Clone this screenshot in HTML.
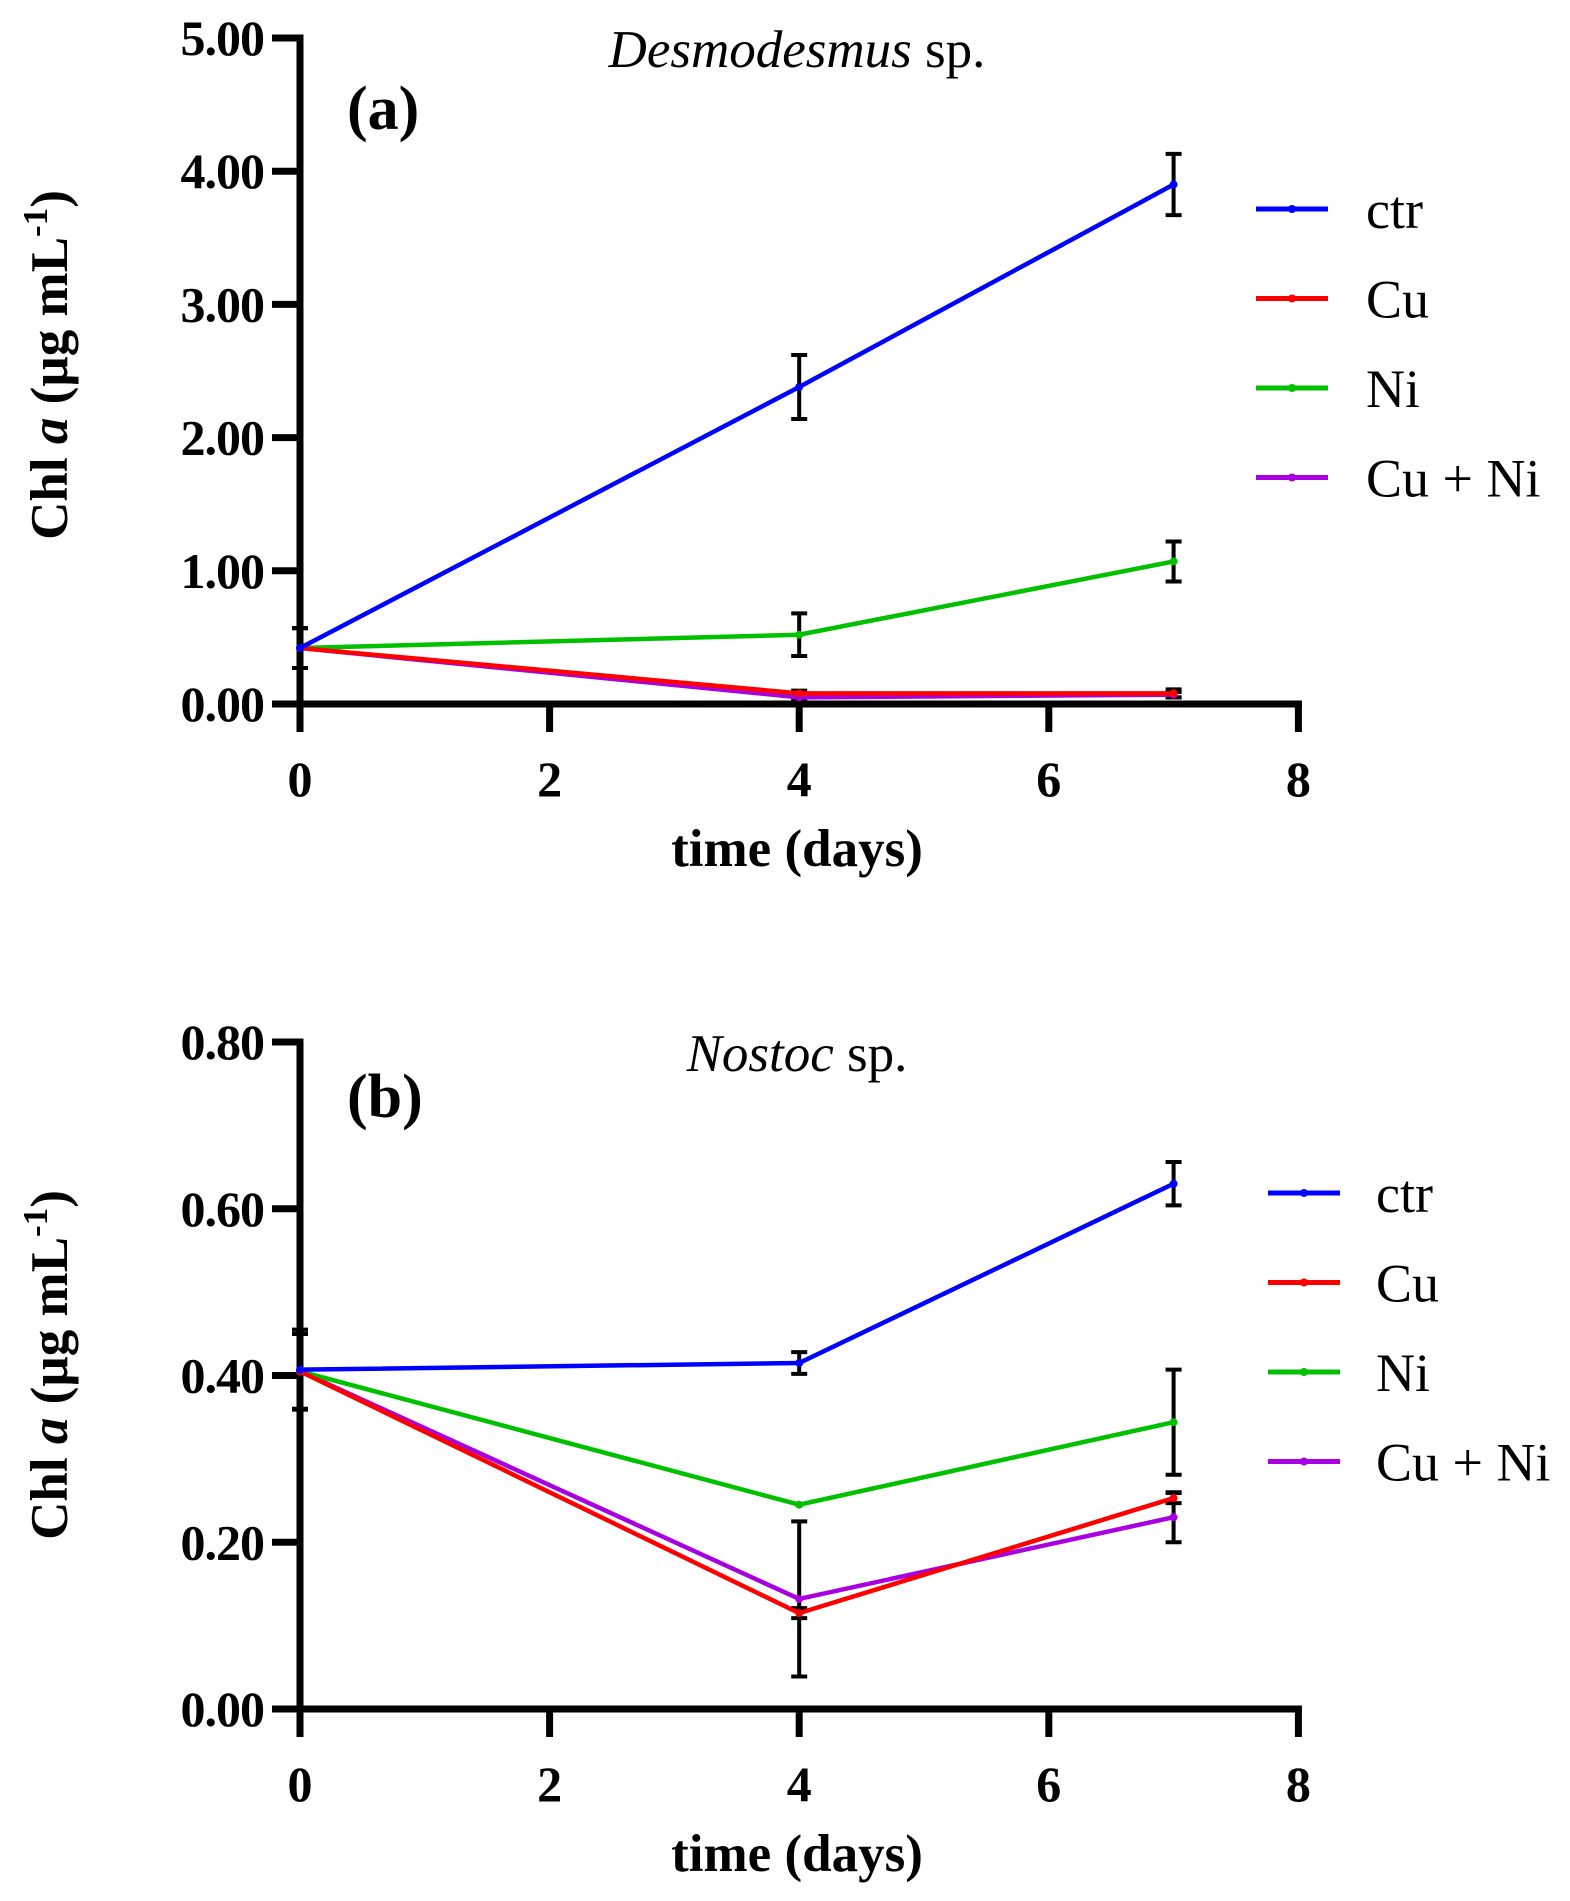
<!DOCTYPE html>
<html><head><meta charset="utf-8"><style>
html,body{margin:0;padding:0;background:#fff;}
svg{display:block;font-family:"Liberation Serif",serif;}
</style></head><body>
<svg id="fig" width="1570" height="1901" viewBox="0 0 1570 1901" xmlns="http://www.w3.org/2000/svg"></svg>
<script>
const days = [0, 4, 7];
const seriesNames = ["ctr", "Cu", "Ni", "Cu + Ni"];
// panel a - Desmodesmus
const aCtr = [0.42, 2.38, 3.90];
const aCtrErr = [0.15, 0.24, 0.23];
const aCu = [0.42, 0.08, 0.08];
const aCuErr = [0.15, 0.02, 0.03];
const aNi = [0.42, 0.52, 1.07];
const aNiErr = [0.15, 0.16, 0.15];
const aCuNi = [0.42, 0.05, 0.07];
const aCuNiErr = [0.15, 0.01, 0.02];
const aTicks = ["0.00", "1.00", "2.00", "3.00", "4.00", "5.00"];
// panel b - Nostoc
const bCtr = [0.407, 0.415, 0.630];
const bCtrErr = [0.048, 0.013, 0.026];
const bCu = [0.405, 0.115, 0.253];
const bCuErr = [0.045, 0.006, 0.006];
const bNi = [0.405, 0.245, 0.344];
const bNiErr = [0.045, 0.0, 0.063];
const bCuNi = [0.405, 0.132, 0.230];
const bCuNiErr = [0.045, 0.093, 0.030];
const bTicks = ["0.00", "0.20", "0.40", "0.60", "0.80"];
const xTicks = ["0", "2", "4", "6", "8"];

const NS = "http://www.w3.org/2000/svg";
const svg = document.getElementById("fig");
const colors = ["#0000ff", "#ff0000", "#00c000", "#a800e0"];
function mk(tag, attrs, parent, text) {
  const e = document.createElementNS(NS, tag);
  for (const k in attrs) e.setAttribute(k, attrs[k]);
  if (text !== undefined) e.textContent = text;
  (parent || svg).appendChild(e);
  return e;
}
function panel(opt) {
  const g = mk("g", {});
  
  
  const x0 = 300, pxPerDay = 124.8;
  const xs = d => x0 + d * pxPerDay;
  const ys = v => opt.yBottom - (v / opt.yMax) * (opt.yBottom - opt.yTop);
  const yAxis = mk("line", {x1: x0, y1: opt.yTop - 3.5, x2: x0, y2: opt.yBottom + 28, stroke: "#000", "stroke-width": 7}, g);
  
  
  const xAxis = mk("line", {x1: x0 - 3.5, y1: opt.yBottom, x2: xs(8) + 3.5, y2: opt.yBottom, stroke: "#000", "stroke-width": 7}, g);
  
  
  opt.ticks.forEach(t => {
    const y = ys(parseFloat(t));
    const tk = mk("line", {x1: 272, y1: y, x2: x0, y2: y, stroke: "#000", "stroke-width": 7}, g);
    
    
    const lb = mk("text", {x: 264, y: y + 17, "text-anchor": "end", "font-size": 50, "font-weight": "bold", "letter-spacing": "-1"}, g, t);
    
    
  });
  xTicks.forEach(t => {
    const x = xs(parseFloat(t));
    const tk = mk("line", {x1: x, y1: opt.yBottom, x2: x, y2: opt.yBottom + 28, stroke: "#000", "stroke-width": 7}, g);
    
    
    const lb = mk("text", {x: x, y: opt.yBottom + 92, "text-anchor": "middle", "font-size": 50, "font-weight": "bold"}, g, t);
    
    
  });
  const xt = mk("text", {x: 797, y: opt.yBottom + 162, "text-anchor": "middle", "font-size": 53, "font-weight": "bold"}, g, "time (days)");
  
  
  const yt = mk("text", {transform: "translate(67," + opt.yTitleC + ") rotate(-90)", "text-anchor": "middle", "font-size": 53, "font-weight": "bold"}, g);
  
  
  mk("tspan", {}, yt, "Chl ");
  mk("tspan", {"font-style": "italic"}, yt, "a");
  mk("tspan", {}, yt, " (µg mL");
  mk("tspan", {dy: -20, "font-size": 35}, yt, "-1");
  mk("tspan", {dy: 20}, yt, ")");
  const tt = mk("text", {x: 797, y: opt.titleY, "text-anchor": "middle", "font-size": 53}, g);
  
  
  mk("tspan", {"font-style": "italic"}, tt, opt.species);
  mk("tspan", {}, tt, " sp.");
  const pl = mk("text", {x: 347, y: opt.labelY, "font-size": 62, "font-weight": "bold"}, g, opt.label);
  
  
  const order = [3, 2, 1, 0];
  order.forEach(si => {
    const vals = opt.series[si], errs = opt.errs[si];
    days.forEach((d, i) => {
      if (errs[i] <= 0) return;
      const x = xs(d), y1 = ys(vals[i] + errs[i]), y2 = ys(vals[i] - errs[i]);
      const eb = mk("path", {d: "M" + x + " " + y1 + "V" + y2 + "M" + (x - 8) + " " + y1 + "H" + (x + 8) + "M" + (x - 8) + " " + y2 + "H" + (x + 8), stroke: "#000", "stroke-width": 4, fill: "none"}, g);
      
      
    });
  });
  order.forEach(si => {
    const vals = opt.series[si];
    const pts = days.map((d, i) => xs(d) + "," + ys(vals[i])).join(" ");
    const ln = mk("polyline", {points: pts, fill: "none", stroke: colors[si], "stroke-width": 4.5}, g);
    
    
    days.forEach((d, i) => {
      const mkp = mk("circle", {cx: xs(d), cy: ys(vals[i]), r: 4, fill: colors[si]}, g);
      
      
    });
  });
  seriesNames.forEach((n, i) => {
    const y = opt.legY + i * opt.legStep;
    const lg = mk("g", {}, g);
    
    
    mk("line", {x1: opt.legX, y1: y, x2: opt.legX + 72, y2: y, stroke: colors[i], "stroke-width": 5}, lg);
    mk("circle", {cx: opt.legX + 36, cy: y, r: 4, fill: colors[i]}, lg);
    mk("text", {x: opt.legTx, y: y + 19, "font-size": 54}, lg, n);
  });
}
panel({name: "panel-a-desmodesmus", yTop: 38, yBottom: 704, yMax: 5, ticks: aTicks,
  series: [aCtr, aCu, aNi, aCuNi], errs: [aCtrErr, aCuErr, aNiErr, aCuNiErr],
  species: "Desmodesmus", titleY: 67, label: "(a)", labelY: 129, yTitleC: 365,
  legX: 1256, legTx: 1366, legY: 209, legStep: 89.5});
panel({name: "panel-b-nostoc", yTop: 1042, yBottom: 1709, yMax: 0.8, ticks: bTicks,
  series: [bCtr, bCu, bNi, bCuNi], errs: [bCtrErr, bCuErr, bNiErr, bCuNiErr],
  species: "Nostoc", titleY: 1071, label: "(b)", labelY: 1117, yTitleC: 1365,
  legX: 1268, legTx: 1376, legY: 1193, legStep: 89.5});
</script>
</body></html>
